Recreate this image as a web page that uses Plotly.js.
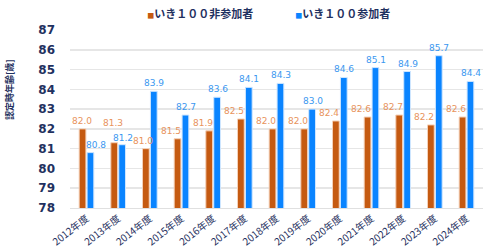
<!DOCTYPE html>
<html><head><meta charset="utf-8">
<script src="https://cdn.plot.ly/plotly-3.0.1.min.js"></script>
<style>html,body{margin:0;padding:0;background:#fff;}#chart{width:499px;height:248px;}</style>
</head><body><div id="chart"></div>
<script>
const years = ["2012年度","2013年度","2014年度","2015年度","2016年度","2017年度","2018年度","2019年度","2020年度","2021年度","2022年度","2023年度","2024年度"];
const nonParticipants = [82.0,81.3,81.0,81.5,81.9,82.5,82.0,82.0,82.4,82.6,82.7,82.2,82.6];
const participants = [80.8,81.2,83.9,82.7,83.6,84.1,84.3,83.0,84.6,85.1,84.9,85.7,84.4];
const seriesNames = ["いき１００非参加者","いき１００参加者"];
const seriesColors = ['#c55a11','#0a84ff'];
const labelColors = ['#e8935c','#3a97f0'];
const yTicks = [78,79,80,81,82,83,84,85,86,87];
const yTitle = '認定時年齢[歳]';

const F = '"Noto Sans CJK JP", "Noto Sans", sans-serif';
const D = '"DejaVu Sans", sans-serif';
const navy = '#1f3160';
const traces = [
  {type:'bar', name:seriesNames[0], x:years, y:nonParticipants, showlegend:false,
   marker:{color:seriesColors[0], line:{color:'#f4d0b8', width:1}}},
  {type:'bar', name:seriesNames[1], x:years, y:participants, showlegend:false,
   marker:{color:seriesColors[1], line:{color:'#cfe6ff', width:1}}}
];
seriesNames.forEach((n,i)=>{
  traces.push({type:'scatter', mode:'markers', x:[null], y:[null], showlegend:true, hoverinfo:'skip',
    name:'<span style="color:'+seriesColors[i]+';font-size:7px">■</span>'+n,
    marker:{opacity:0, size:0.1, color:'rgba(0,0,0,0)', line:{width:0}}});
});

// data labels (annotations so they sit above every bar)
const annotations = [];
years.forEach((yr,i)=>{
  const a = nonParticipants[i], b = participants[i];
  const close = Math.abs(a-b) < 0.3;
  const prevB = i > 0 ? participants[i-1] : -Infinity;
  const crowded = Math.abs(prevB - a) < 0.5;
  let ox = -4.5, oy = 8;
  if (close) { ox += -1; oy = 20; }
  else if (b > a && crowded) { ox += -2; }
  else if (b > a) { ox += -6; }
  annotations.push({x:yr, y:a, xref:'x', yref:'y', text:a.toFixed(1), showarrow:false,
    xshift: ox, yshift: oy, yanchor:'middle',
    font:{family:D, size:9, color:labelColors[0]}});
  annotations.push({x:yr, y:b, xref:'x', yref:'y', text:b.toFixed(1), showarrow:false,
    xshift: 4.5 + (b < a && !close ? 5 : 0), yshift: close ? 7 : 8, yanchor:'middle',
    font:{family:D, size:9, color:labelColors[1]}});
});
annotations.push({xref:'paper', yref:'paper', x:-0.145, y:0.663, xanchor:'center', yanchor:'middle',
  text:yTitle, textangle:-90, showarrow:false, font:{family:F, size:9, color:navy, weight:'bold'}});

const layout = {
  width:499, height:248,
  margin:{l:70, r:16, t:30, b:40},
  paper_bgcolor:'#fff', plot_bgcolor:'#fff',
  barmode:'group', bargap:0.5, bargroupgap:0.15,
  showlegend:true,
  legend:{orientation:'h', x:0.09, xanchor:'left', yref:'container', y:0.944, yanchor:'middle',
    font:{family:F, size:11, color:navy, weight:'bold'}, itemwidth:30, traceorder:'normal',
    entrywidth:103, entrywidthmode:'pixels'},
  annotations: annotations,
  xaxis:{type:'category', tickangle:-38, tickfont:{family:F, size:10, color:navy},
    showgrid:false, showline:true, linecolor:'#e0e0e0', ticks:'', automargin:false},
  yaxis:{range:[78,87], tickvals:yTicks, tickfont:{family:D, size:12, color:navy, weight:'bold'},
    showgrid:true, gridcolor:'#e6e6e6', gridwidth:1.5, zeroline:false, ticks:'',
    ticklabelstandoff:14, automargin:false},
  font:{family:F}
};
Plotly.newPlot('chart', traces, layout, {displayModeBar:false, staticPlot:true});
</script></body></html>
